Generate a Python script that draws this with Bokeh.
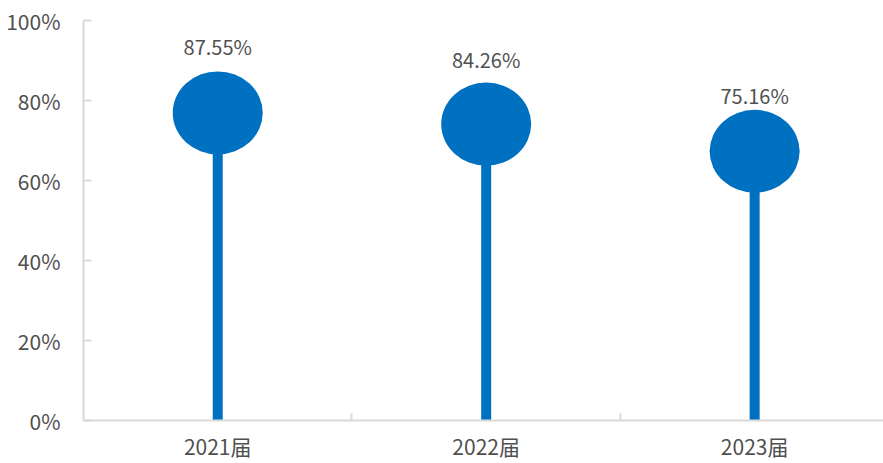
from bokeh.plotting import figure
from bokeh.models import ColumnDataSource, FixedTicker, Range1d
from bokeh.core.properties import value
from bokeh.embed import file_html
from bokeh.resources import INLINE

categories = ["2021届", "2022届", "2023届"]
rates = [87.55, 84.26, 75.16]
bubble_centers = [76.9, 74.1, 67.3]
rate_labels = ["87.55%", "84.26%", "75.16%"]
y_ticks = [0, 20, 40, 60, 80, 100]

BLUE = "#0070C0"
GRAY = "#D9D9D9"
TXT = "#505050"
FONT = "Noto Sans CJK SC"

xs = [i + 0.5 for i in range(len(categories))]
src = ColumnDataSource(dict(x=xs, rate=rates, bub=bubble_centers, lab=rate_labels,
                            zero=[0] * len(xs)))

p = figure(frame_width=800, frame_height=400, output_backend="svg", toolbar_location=None,
           x_range=Range1d(0, 2.98), y_range=Range1d(0, 100),
           min_border_left=83, min_border_right=0, min_border_top=20, min_border_bottom=43)
p.outline_line_color = None
p.grid.grid_line_color = None
p.background_fill_color = "white"
p.border_fill_color = "white"

p.segment(x0="x", y0="zero", x1="x", y1="bub", source=src, line_color=BLUE, line_width=10)
p.ellipse(x="x", y="bub", width=90, height=83, width_units="screen", height_units="screen",
          source=src, fill_color=BLUE, line_color=None)
p.text(x="x", y="rate", text="lab", source=src, text_align="center", text_baseline="middle",
       y_offset=-24, text_font=value(FONT), text_font_size="20px", text_color=TXT)

# x axis
p.xaxis.ticker = FixedTicker(ticks=xs, minor_ticks=[1, 2])
p.xaxis.major_label_overrides = {x: c for x, c in zip(xs, categories)}
p.xaxis.major_tick_line_color = None
p.xaxis.minor_tick_line_color = GRAY
p.xaxis.minor_tick_line_width = 2
p.xaxis.minor_tick_in = 7
p.xaxis.minor_tick_out = 0
p.xaxis.axis_line_color = GRAY
p.xaxis.axis_line_width = 2
p.xaxis.major_label_text_font = FONT
p.xaxis.major_label_text_font_size = "21px"
p.xaxis.major_label_text_color = TXT
p.xaxis.major_label_standoff = 4

# y axis
p.yaxis.ticker = FixedTicker(ticks=y_ticks, minor_ticks=[])
p.yaxis.major_label_overrides = {t: f"{t}%" for t in y_ticks}
p.yaxis.axis_line_color = GRAY
p.yaxis.axis_line_width = 2
p.yaxis.major_tick_line_color = GRAY
p.yaxis.major_tick_line_width = 2
p.yaxis.major_tick_in = 8
p.yaxis.major_tick_out = 0
p.yaxis.minor_tick_line_color = None
p.yaxis.major_label_text_font = FONT
p.yaxis.major_label_text_font_size = "21px"
p.yaxis.major_label_text_color = TXT
p.yaxis.major_label_standoff = 23

open("out.html", "w").write(file_html(p, INLINE))
